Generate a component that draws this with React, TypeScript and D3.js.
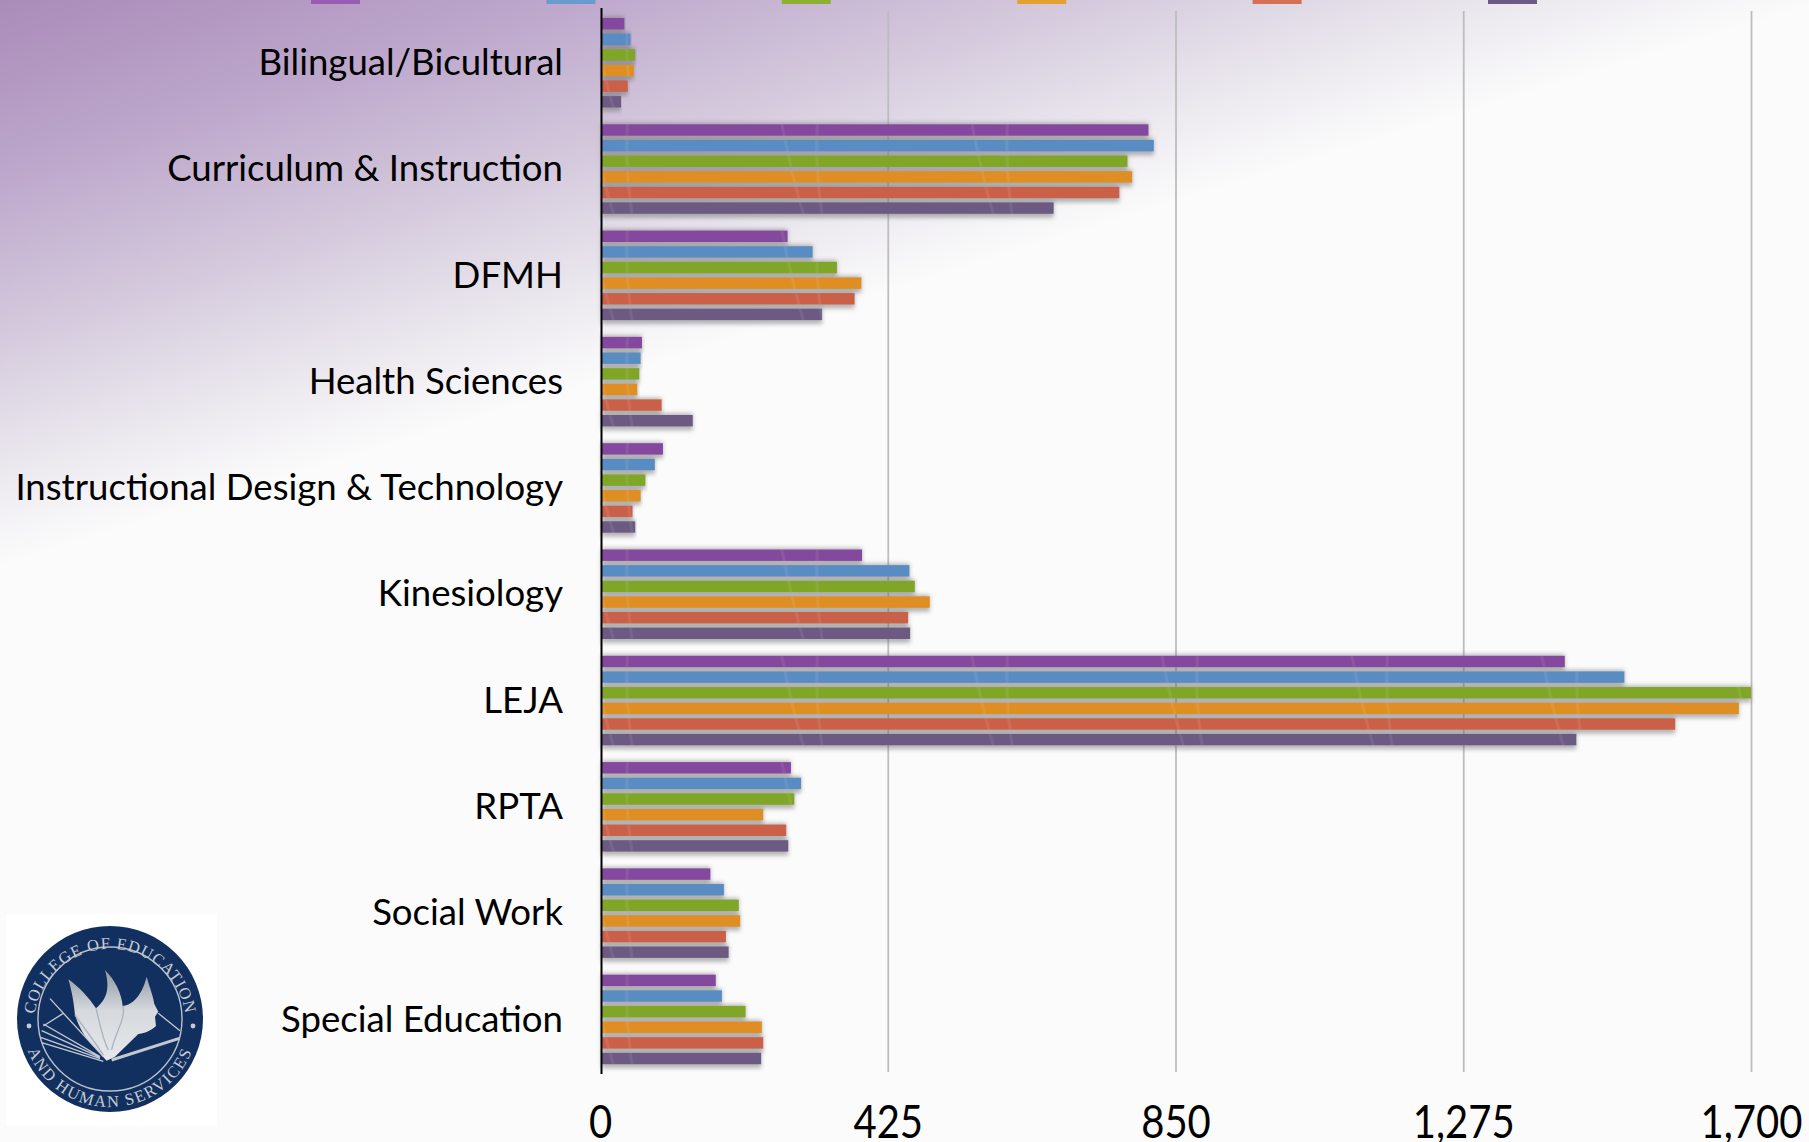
import React, { useEffect, useRef } from "react";
import * as d3 from "d3";

const width = 1809;
const height = 1142;
const margin = { top: 9, right: 58, bottom: 70, left: 600 };
const axisX = 601.5; // the drawn axis sits a little right of the zero gridline slot

const categories = [
  "Bilingual/Bicultural",
  "Curriculum & Instruction",
  "DFMH",
  "Health Sciences",
  "Instructional Design & Technology",
  "Kinesiology",
  "LEJA",
  "RPTA",
  "Social Work",
  "Special Education",
];

// legend text is cropped off in the source, so the series only get keys
const seriesKeys = ["s1", "s2", "s3", "s4", "s5", "s6"];
const seriesColors = ["#84499e", "#5a8cc4", "#80a627", "#de8e23", "#cb6049", "#6c5a82"];
const legendColors = ["#9a5cb2", "#6a9bcf", "#8fb02f", "#e5a02f", "#d66f56", "#6c5a85"];

const s1 = [36, 810, 277, 62, 93, 387, 1425, 282, 163, 171];
const s2 = [45, 818, 314, 60, 81, 457, 1513, 297, 183, 180];
const s3 = [52, 779, 350, 58, 67, 465, 1700, 287, 205, 215];
const s4 = [50, 786, 386, 55, 60, 487, 1682, 241, 207, 239];
const s5 = [41, 767, 376, 91, 48, 455, 1588, 275, 186, 241];
const s6 = [31, 670, 328, 137, 52, 458, 1442, 278, 190, 238];
const seriesValues = [s1, s2, s3, s4, s5, s6];

const xTicks = [0, 425, 850, 1275, 1700];

const x = d3.scaleLinear().domain([0, 1700]).range([margin.left, width - margin.right]);
const y0 = d3.scaleBand().domain(categories).range([margin.top, height - margin.bottom]);
const y1 = d3.scaleBand().domain(seriesKeys).range([8.5, 98]).paddingInner(0.27);
const legendX = d3.scaleBand().domain(seriesKeys).range([311, 311 + 6 * 235.4]);

const FONT = "Lato, 'Open Sans', sans-serif";

function Logo() {
  // drawn at 3x around the crop origin, hence the scale
  return (
    <g>
      <rect x={6} y={914} width={211} height={212} fill="#ffffff" />
      <circle cx={110} cy={1019} r={93} fill="#12305f" />
      <circle cx={110} cy={1019} r={72} fill="none" stroke="#b9c1ca" strokeWidth={1.4} />
      <path id="sealTop" d="M 34 1025 A 76 76 0 0 1 186 1025" fill="none" />
      <path id="sealBottom" d="M 22 1019 A 88 88 0 0 0 198 1019" fill="none" />
      <text fontFamily="'Liberation Serif', serif" fontSize={16.5} fill="#c6ccd3" letterSpacing={0.9}>
        <textPath href="#sealTop" startOffset="50%" textAnchor="middle">COLLEGE OF EDUCATION</textPath>
      </text>
      <text fontFamily="'Liberation Serif', serif" fontSize={16.5} fill="#c6ccd3" letterSpacing={1.6}>
        <textPath href="#sealBottom" startOffset="50%" textAnchor="middle">AND HUMAN SERVICES</textPath>
      </text>
      <circle cx={29} cy={1026} r={2.4} fill="#c6ccd3" />
      <circle cx={193} cy={1026} r={2.4} fill="#c6ccd3" />
      <g transform="translate(0,900) scale(0.3333)">
        <path
          d="M205,238 C235,260 265,290 288,325 C310,305 335,280 315,210 C345,240 365,280 368,318 C395,315 425,290 440,230 C450,265 460,290 463,312 L475,335 L465,350 L468,378 C450,395 430,400 415,402 L345,470 L320,482 L290,450 C260,420 240,390 225,345 C222,310 215,270 205,238 Z"
          fill="url(#logoFill)"
        />
        <path d="M288,325 C300,370 305,410 325,450 M368,318 C380,350 345,400 335,450 M225,345 C250,380 280,420 310,465" fill="none" stroke="#a9b4c2" strokeWidth={4} />
        <path d="M150,296 L310,470 M130,372 L300,470 M125,392 L300,472 M122,412 L300,476 M125,428 L310,484 M190,340 L130,378" fill="none" stroke="#c3c9d0" strokeWidth={4} />
        <path d="M335,480 L538,415" fill="none" stroke="#c3c9d0" strokeWidth={9} />
        <path d="M475,340 L540,392" fill="none" stroke="#c3c9d0" strokeWidth={4} />
      </g>
    </g>
  );
}

export default function App() {
  const xAxisRef = useRef<SVGGElement | null>(null);
  const yAxisRef = useRef<SVGGElement | null>(null);

  useEffect(() => {
    const gx = d3.select(xAxisRef.current);
    gx.call(
      d3.axisBottom(x)
        .tickValues(xTicks)
        .tickSize(-(height - margin.bottom - margin.top - 2))
        .tickPadding(0)
        .tickFormat(d3.format(","))
    );
    gx.select(".domain").remove();
    gx.selectAll(".tick line")
      .attr("stroke", (d) => (d === 0 ? "none" : "#bdbdbd"))
      .attr("stroke-width", 1.8);
    gx.selectAll(".tick text")
      .attr("y", 66)
      .attr("dy", 0)
      .attr("transform", "scale(0.87,1)")
      .attr("fill", "#000")
      .style("font-family", FONT)
      .style("font-size", "46px");

    const gy = d3.select(yAxisRef.current);
    gy.call(d3.axisLeft(y0).tickSize(0).tickPadding(38.5));
    gy.select(".domain").remove();
    gy.selectAll(".tick text")
      .attr("fill", "#000")
      .attr("dy", "0.35em")
      .style("font-family", FONT)
      .style("font-size", "36.6px");
  }, []);

  return (
    <svg
      width={width}
      height={height}
      style={{ position: "absolute", left: 0, top: 0, display: "block" }}
    >
      <defs>
        <linearGradient id="bg" gradientUnits="userSpaceOnUse" x1={0} y1={0} x2={160} y2={517}>
          <stop offset="0" stopColor="#aa8cb9" />
          <stop offset="0.3" stopColor="#bca6cb" />
          <stop offset="0.6" stopColor="#d5cadd" />
          <stop offset="0.8" stopColor="#e8e4ec" />
          <stop offset="1" stopColor="#fbfbfb" />
        </linearGradient>
        <linearGradient id="logoFill" x1="0" y1="0" x2="0" y2="1">
          <stop offset="0" stopColor="#8e97a3" />
          <stop offset="0.45" stopColor="#d6d9dd" />
          <stop offset="1" stopColor="#e6e8ea" />
        </linearGradient>
        <filter id="soft" x="-5%" y="-60%" width="110%" height="220%">
          <feGaussianBlur stdDeviation="2" />
        </filter>
        <pattern id="swirl" patternUnits="userSpaceOnUse" width={190} height={150}>
          <path d="M20,0 C28,40 40,100 62,150 M58,0 C54,50 60,100 72,150" fill="none" stroke="#ffffff" strokeWidth={3} opacity={0.07} />
        </pattern>
      </defs>

      <rect width={width} height={height} fill="url(#bg)" />

      <g>
        {seriesKeys.map((k, i) => (
          <rect key={k} x={legendX(k)} y={0} width={49} height={4} fill={legendColors[i]} />
        ))}
      </g>

      <g ref={xAxisRef} transform={`translate(0,${height - margin.bottom})`} />

      {categories.map((c, ci) => (
        <g key={c} transform={`translate(0,${y0(c)})`}>
          {seriesKeys.map((k, si) => {
            const v = seriesValues[si][ci];
            return (
              <rect
                key={k}
                x={axisX}
                y={y1(k)! - 1}
                width={x(v) - axisX}
                height={y1.bandwidth() + 5.5}
                fill="#707070"
                opacity={0.5}
                filter="url(#soft)"
              />
            );
          })}
          {seriesKeys.map((k, si) => {
            const v = seriesValues[si][ci];
            return (
              <g key={k}>
                <rect x={axisX} y={y1(k)! + 0.5} width={x(v) - axisX} height={y1.bandwidth()} fill={seriesColors[si]} />
                <rect x={axisX} y={y1(k)! + 0.5} width={x(v) - axisX} height={y1.bandwidth()} fill="url(#swirl)" />
              </g>
            );
          })}
        </g>
      ))}

      <line x1={axisX} x2={axisX} y1={margin.top - 1} y2={height - margin.bottom + 2} stroke="#000" strokeWidth={2} />
      <g ref={yAxisRef} transform={`translate(${margin.left + 1.5},0)`} />

      <Logo />
    </svg>
  );
}
